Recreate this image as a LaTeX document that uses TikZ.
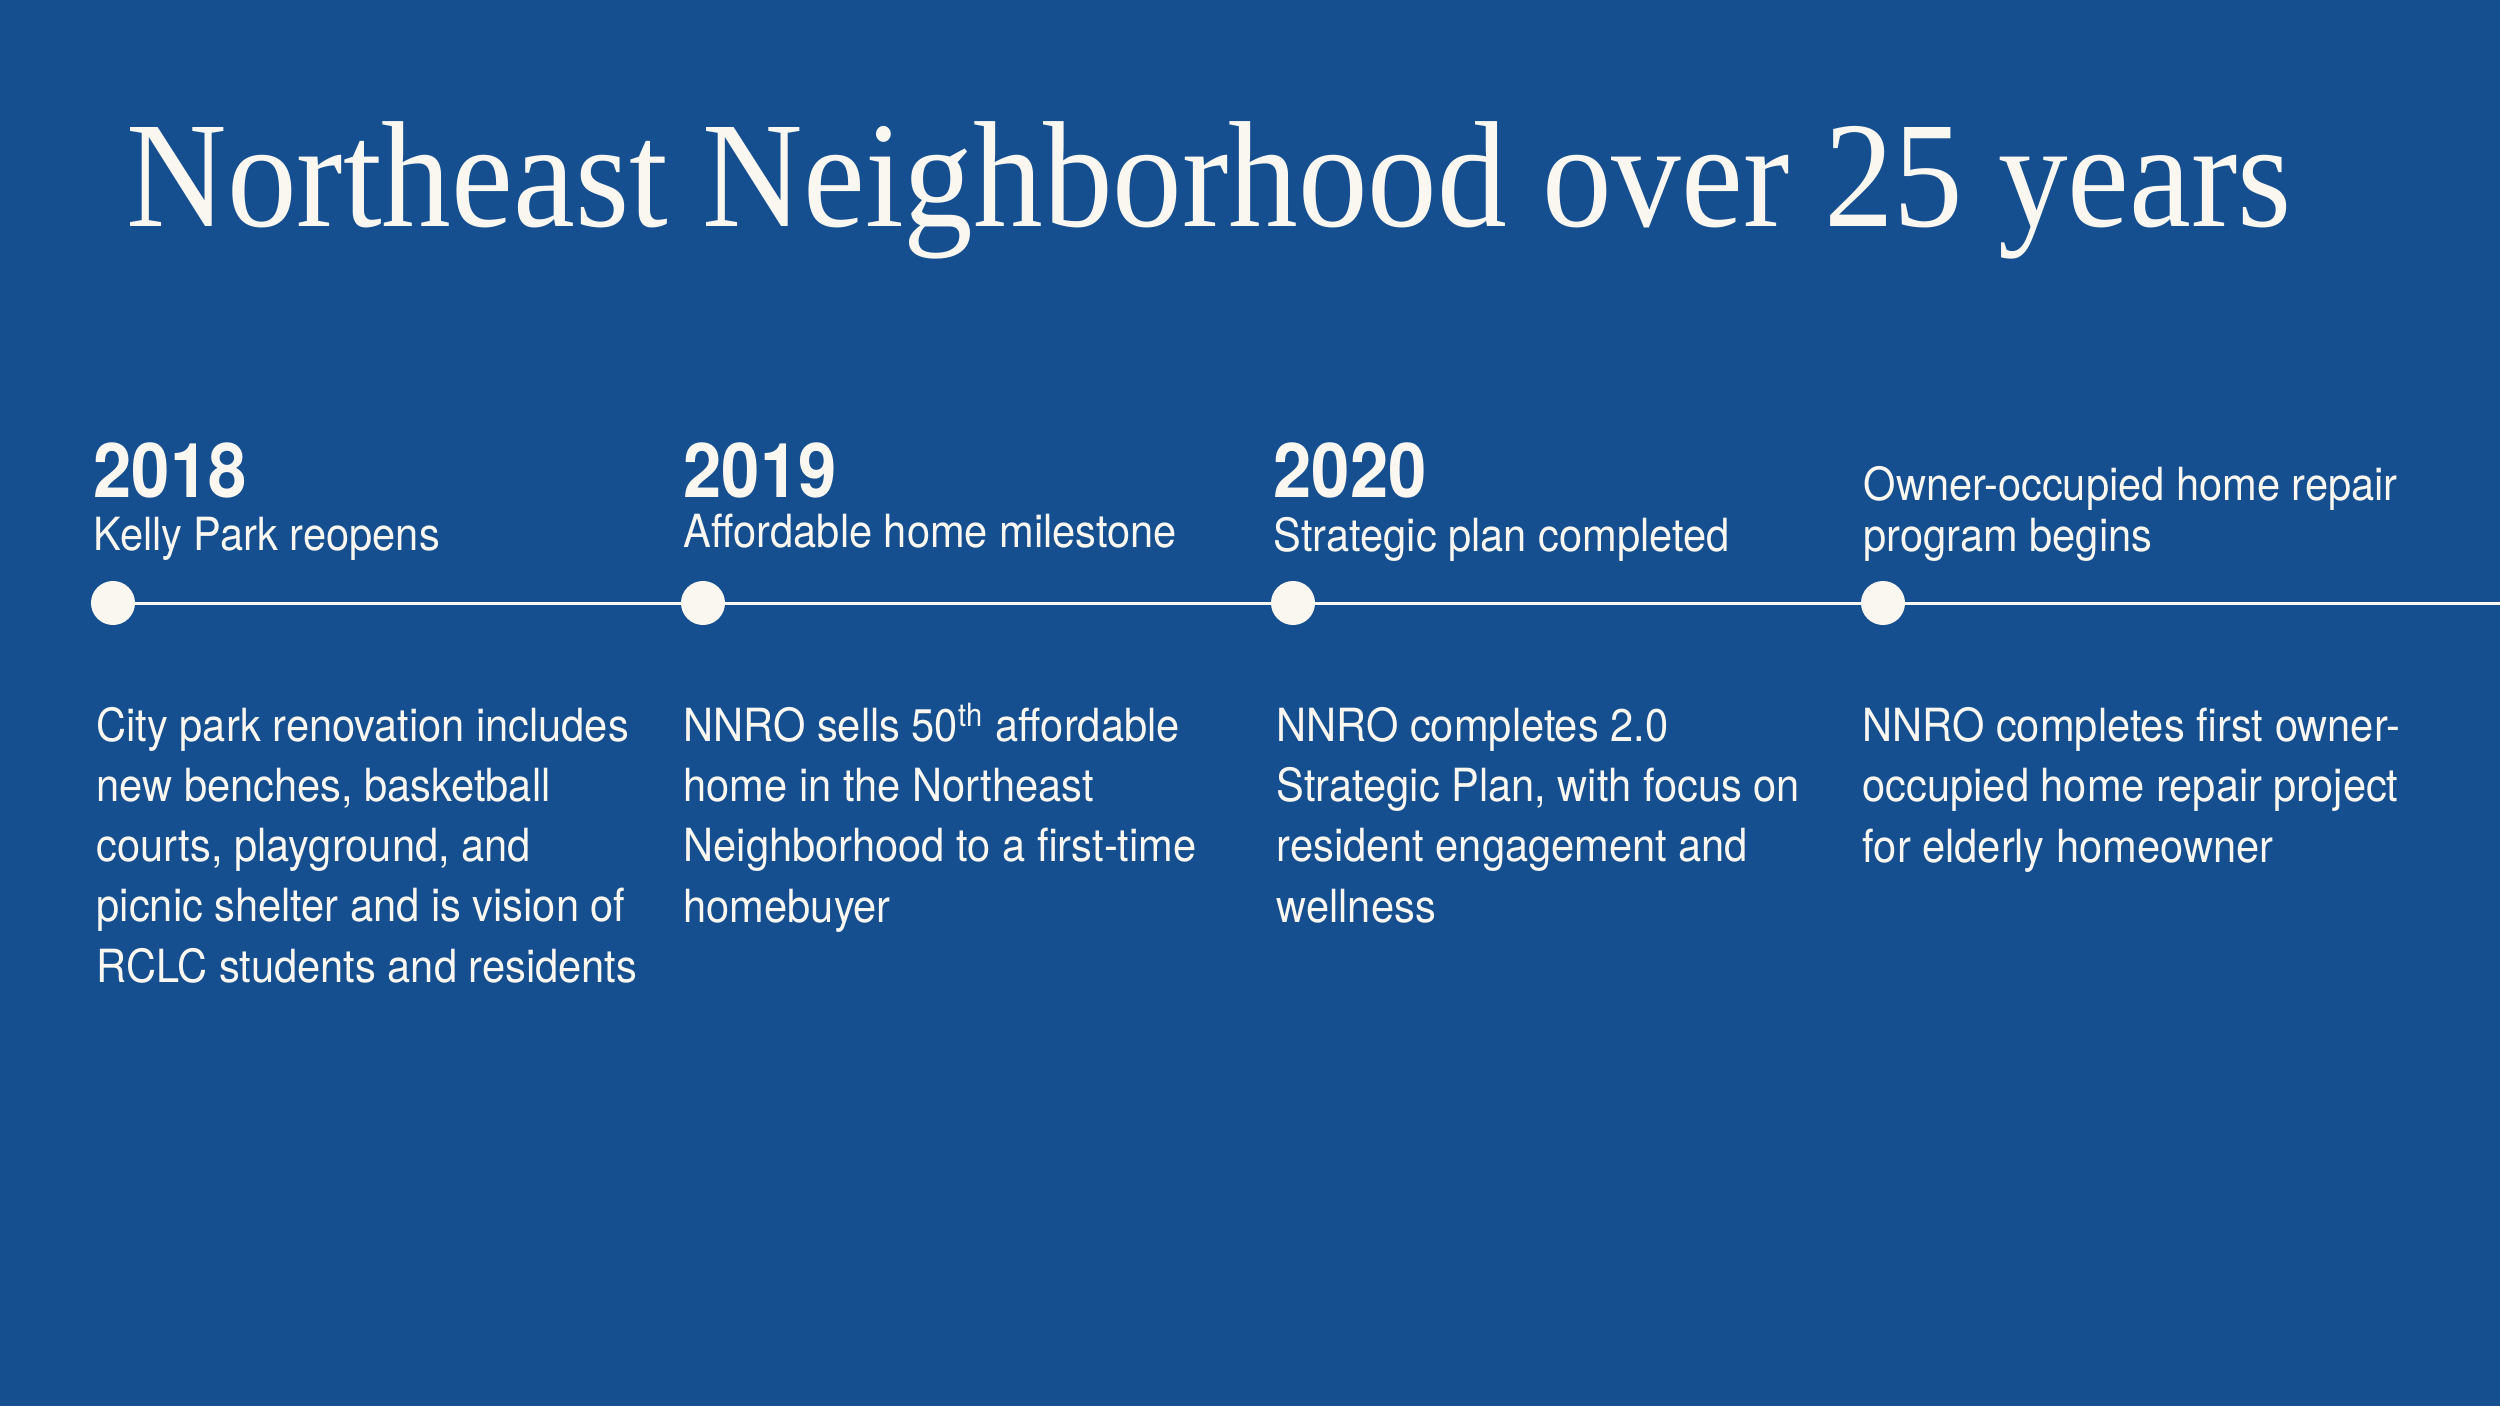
\documentclass[tikz,border=0pt]{standalone}
\usepackage{fontspec}
\setmainfont{TeX Gyre Heros}[FakeStretch=0.91]
\newfontfamily\titlefont{Liberation Serif}
\definecolor{bg}{HTML}{154F8F}
\definecolor{ink}{HTML}{FAF7F0}
\begin{document}
\begin{tikzpicture}[x=0.01cm,y=-0.01cm,
  yearlbl/.style={anchor=base west, inner sep=0, text=ink, font=\fontsize{21.5}{25}\selectfont\bfseries},
  sublbl/.style={anchor=base west, inner sep=0, text=ink, align=left, font=\fontsize{13}{14.5}\selectfont},
  bodylbl/.style={anchor=base west, inner sep=0, text=ink, align=left, font=\fontsize{13}{17.07}\selectfont},
  dotmark/.style={circle, fill=ink, minimum size=0.44cm, inner sep=0},
  tline/.style={draw=ink, line width=0.03cm}]
\fill[bg] (0,0) rectangle (2500,1406);
\useasboundingbox (0,0) rectangle (2500,1406);

\node[anchor=base west, inner sep=0, text=ink] (title) at (126,226)
  {\resizebox{21.64cm}{\height}{\titlefont\fontsize{43}{50}\selectfont Northeast Neighborhood over 25 years}};

% timeline
\coordinate (lineend) at (2500,603);
\coordinate (p1) at (113,603);
\draw[tline] (p1) -- (lineend);
\node[dotmark] (d1) at (113,603) {};
\node[dotmark] (d2) at (703,603) {};
\node[dotmark] (d3) at (1293,603) {};
\node[dotmark] (d4) at (1883,603) {};

% years
\node[yearlbl] (y1) at (93,497) {2018};
\node[yearlbl] (y2) at (683,497) {2019};
\node[yearlbl] (y3) at (1273,497) {2020};

% subtitles (anchor = baseline of last line)
\node[sublbl] (s1) at (93,550) {Kelly Park reopens};
\node[sublbl] (s2) at (683,547) {Affordable home milestone};
\node[sublbl] (s3) at (1273,551) {Strategic plan completed};
\node[sublbl] (s4) at (1863,551) {Owner-occupied home repair\\program begins};

% bodies (anchor = baseline of last line; first line at 742, 60px spacing)
\node[bodylbl] (b1) at (96,982) {City park renovation includes\\new benches, basketball\\courts, playground, and\\picnic shelter and is vision of\\RCLC students and residents};
\node[bodylbl] (b2) at (683,922) {NNRO sells 50\textsuperscript{th} affordable\\home in the Northeast\\Neighborhood to a first-time\\homebuyer};
\node[bodylbl] (b3) at (1276,922) {NNRO completes 2.0\\Strategic Plan, with focus on\\resident engagement and\\wellness};
\node[bodylbl] (b4) at (1862,862) {NNRO completes first owner-\\occupied home repair project\\for elderly homeowner};
\end{tikzpicture}
\end{document}
